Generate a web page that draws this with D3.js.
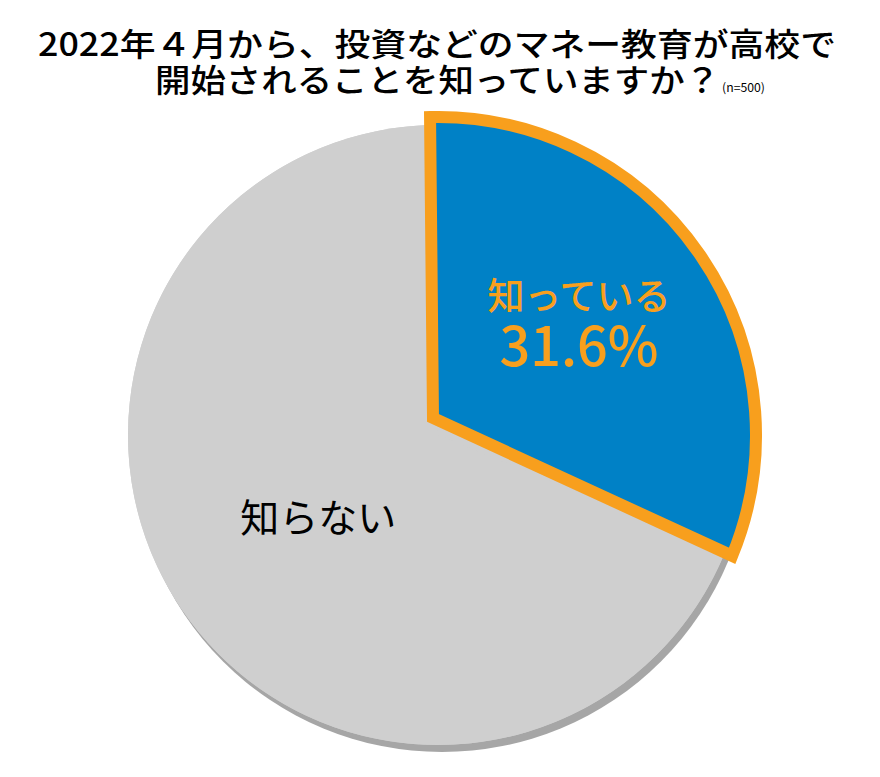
<!DOCTYPE html>
<html>
<head>
<meta charset="utf-8">
<script src="https://cdn.jsdelivr.net/npm/d3@7"></script>
<style>
  body { margin: 0; background: #fff; }
  svg { display: block; font-family: "Noto Sans CJK JP", "Noto Sans", sans-serif; }
</style>
</head>
<body>
<div id="chart"></div>
<script>
// data
var categories = ["知っている", "知らない"];
var values = [31.6, 68.4];
var colors = ["#0081c6", "#cfcfcf"];
var titleLines = ["2022年４月から、投資などのマネー教育が高校で", "開始されることを知っていますか？"];
var sampleNote = "(n=500)";

var w = 880;
var h = 777;
var svg = d3.select("#chart")
  .append("svg")
  .attr("width", w)
  .attr("height", h);

// pie centre and radius
var cx = 438, cy = 435, r = 310;
var rot = -0.025; // slight turn so the blue edge stands upright

var pie = d3.pie().sort(null).startAngle(rot).endAngle(2 * Math.PI + rot);
var arcs = pie(values);

var arc = d3.arc().innerRadius(0).outerRadius(r);

var g = svg.append("g").attr("transform", "translate(" + cx + "," + cy + ")");

// shadow + base disc
g.append("path")
  .attr("transform", "translate(4,7)")
  .attr("d", arc({startAngle: 0, endAngle: 2 * Math.PI}))
  .attr("fill", "#a6a6a6");
g.append("path")
  .attr("d", arc({startAngle: 0, endAngle: 2 * Math.PI}))
  .attr("fill", colors[1]);

// gray slice
g.append("path")
  .attr("d", arc(arcs[1]))
  .attr("fill", colors[1]);

// blue slice: pulled out, vertex moved up, larger rim
var rBig = 318;
var vx = -5, vy = -17;
function pt(a, rad) { return [rad * Math.sin(a), -rad * Math.cos(a)]; }
var a0 = arcs[0].startAngle, a1 = arcs[0].endAngle;
var p0 = pt(a0, rBig);
var bp = d3.path();
bp.moveTo(vx, vy);
bp.lineTo(p0[0], p0[1]);
bp.arc(0, 0, rBig, a0 - Math.PI / 2, a1 - Math.PI / 2);
bp.closePath();
g.append("path")
  .attr("d", bp.toString())
  .attr("fill", colors[0])
  .attr("stroke", "#f89f1d")
  .attr("stroke-width", 12)
  .attr("stroke-linejoin", "miter");

// labels
var c0 = d3.arc().innerRadius(0).outerRadius(rBig).centroid(arcs[0]);
var lab0 = g.append("text")
  .attr("text-anchor", "middle")
  .attr("font-weight", 500)
  .attr("fill", "#f89f1d");
lab0.append("tspan")
  .attr("x", c0[0] + 10)
  .attr("y", c0[1] - 35)
  .attr("font-size", 37)
  .text(categories[0]);
lab0.append("tspan")
  .attr("x", c0[0] + 10)
  .attr("y", c0[1] + 21)
  .attr("font-size", 54)
  .text(values[0] + "%");

var c1 = arc.centroid(arcs[1]);
g.append("text")
  .attr("x", c1[0] + 8)
  .attr("y", c1[1] + 9)
  .attr("text-anchor", "middle")
  .attr("font-size", 39)
  .attr("font-weight", 400)
  .attr("fill", "#000")
  .text(categories[1]);

// title
var title = svg.append("text")
  .attr("font-size", 32)
  .attr("font-weight", 500);
title.append("tspan")
  .attr("x", 38)
  .attr("y", 56)
  .attr("textLength", 798)
  .attr("lengthAdjust", "spacingAndGlyphs")
  .text(titleLines[0]);
title.append("tspan")
  .attr("x", 155)
  .attr("y", 92)
  .attr("textLength", 565)
  .attr("lengthAdjust", "spacingAndGlyphs")
  .text(titleLines[1]);
svg.append("text")
  .attr("x", 722)
  .attr("y", 92)
  .attr("font-size", 12)
  .attr("textLength", 43)
  .attr("lengthAdjust", "spacingAndGlyphs")
  .text(sampleNote);
</script>
</body>
</html>
